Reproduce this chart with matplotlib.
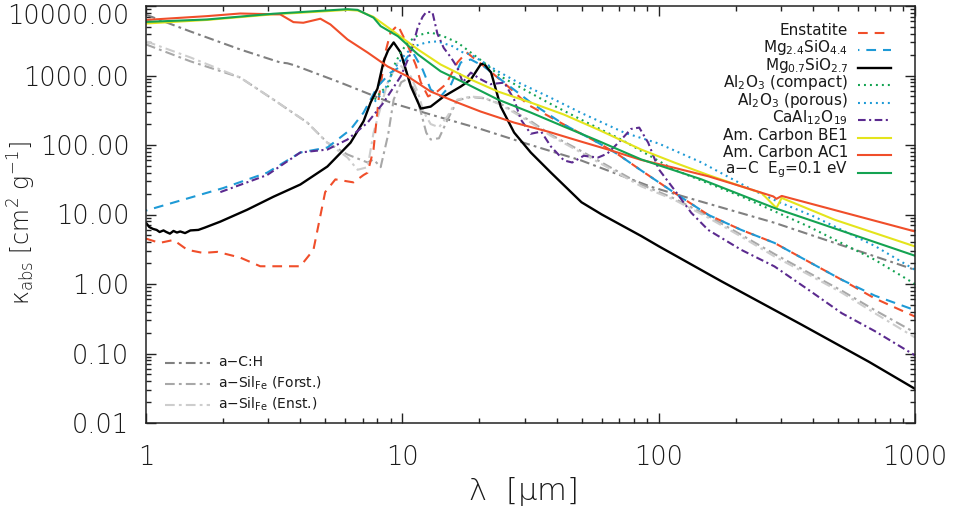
import numpy as np
import matplotlib
matplotlib.use('Agg')
import matplotlib.pyplot as plt
import matplotlib.transforms as mtransforms
from matplotlib.ticker import FixedLocator, FuncFormatter, NullFormatter, LogLocator

# ---------------- data (wavelength in micron, kappa_abs in cm^2/g) ----------------
lam_enst = [1.0, 1.13, 1.28, 1.45, 1.67, 1.9, 2.33, 2.79, 3.3, 4.0, 4.5, 5.0, 5.48, 6.45, 7.06,
            7.32, 7.72, 8.08, 8.6, 9.0, 9.6, 10.5, 11.3, 11.8, 12.6, 13.7, 14.8, 16.4, 17.8,
            19.7, 21.6, 25.8, 30.9, 42.7, 58, 69.5, 85.5, 115, 156, 210, 283, 385, 518, 697, 1000]
k_enst = [4.5, 3.9, 4.3, 3.1, 2.8, 2.9, 2.4, 1.8, 1.8, 1.8, 3.1, 21, 32, 29, 37,
          40, 86, 450, 2200, 4200, 5300, 2700, 1400, 800, 500, 590, 750, 1540, 2150,
          1600, 1220, 700, 380, 197, 108, 73, 43, 20.6, 9.9, 6.0, 3.9, 2.09, 1.15, 0.62, 0.34]

lam_mg24 = [1.0, 2.0, 2.97, 4.0, 5.1, 6.28, 7.06, 8.0, 9.0, 9.85, 10.5, 11.0, 12.0, 12.9, 14.1,
            15.5, 16.9, 18.5, 20.8, 24.2, 28.2, 31.7, 42.7, 58, 69.5, 85.5, 115, 156, 210, 283,
            385, 518, 697, 1000]
k_mg24 = [11.4, 24, 40, 78, 92, 167, 293, 694, 1100, 1350, 1880, 2140, 1220, 628, 498,
          750, 1540, 1700, 1350, 875, 569, 408, 197, 108, 73, 43, 20.6, 9.9, 6.0, 3.9,
          2.09, 1.15, 0.68, 0.42]

lam_mg07 = [1.0, 1.03, 1.065, 1.1, 1.13, 1.17, 1.2, 1.24, 1.28, 1.32, 1.36, 1.42, 1.49, 1.6, 1.7,
            1.95, 2.48, 3.14, 4.0, 5.1, 6.28, 7.06, 7.52, 8.0, 8.45, 8.8, 9.25, 9.85, 10.8, 11.8,
            12.9, 14.5, 16.9, 18.5, 20.2, 20.8, 22.2, 24.2, 27.3, 31.7, 38, 50, 60, 85.5, 100,
            176, 361, 661, 1000]
k_mg07 = [7.6, 6.6, 6.2, 6.0, 5.6, 5.9, 5.6, 5.3, 5.8, 5.5, 5.7, 5.4, 5.9, 6.0, 6.5,
          7.9, 11.7, 18, 27, 49, 108, 220, 408, 650, 1600, 2300, 2990, 2140, 694, 334,
          357, 498, 694, 875, 1440, 1490, 1100, 357, 151, 78, 40, 15, 10, 4.9, 3.5,
          1.09, 0.26, 0.076, 0.031]

lam_alc = [7.8, 8.3, 8.8, 9.25, 9.85, 10.5, 11.5, 12.9, 14.5, 16.4, 18.5, 20.8, 24.2, 29.9, 37,
           49.8, 71.4, 115, 210, 385, 697, 1000]
k_alc = [450, 600, 700, 1350, 2140, 2990, 3800, 4170, 3650, 2990, 2140, 1540, 968, 628, 408,
         232, 120, 44, 18.2, 6.7, 2.23, 1.0]

lam_alp = [7.8, 8.5, 9.25, 10.1, 11.0, 12.4, 13.7, 14.5, 15.9, 16.9, 18.5, 20.8, 23.6, 28.2, 37,
           49.8, 73.6, 100, 147, 230, 290, 405, 518, 700, 1000]
k_alp = [420, 600, 1220, 1880, 2600, 2990, 3100, 2900, 2600, 2200, 2000, 1540, 1150, 800, 500,
         290, 150, 105, 56, 23, 15.5, 9.3, 6.0, 3.5, 1.6]

lam_ca = [1.95, 2.97, 4.0, 5.1, 6.11, 7.32, 8.45, 9.85, 10.8, 11.5, 12.0, 12.4, 13.1, 13.7, 14.5,
          15.5, 16.4, 17.2, 18.5, 20.0, 22.0, 25.0, 27.3, 29.0, 31.7, 34.8, 38, 42.7, 46, 51,
          58, 63, 70, 78, 84, 91, 100, 115, 134, 156, 210, 283, 385, 518, 697, 1000]
k_ca = [21, 37, 78, 86, 120, 210, 408, 968, 2140, 5000, 7000, 8200, 8200, 4000, 2500,
        1800, 1300, 800, 1100, 900, 750, 790, 450, 232, 145, 156, 95, 60, 56, 70,
        66, 75, 110, 170, 178, 108, 45, 22.8, 10.6, 6.0, 3.1, 1.79, 0.82, 0.38, 0.21, 0.094]

lam_be1 = [1.0, 1.73, 3.14, 4.0, 5.0, 6.1, 6.7, 7.7, 9.25, 11.5, 14.1, 18.5, 23.6, 31.7, 42.7,
           58, 85.5, 115, 156, 210, 252, 288, 302, 486, 1000]
k_be1 = [5600, 6300, 7600, 8000, 8400, 8800, 8600, 7000, 4300, 2370, 1440, 875, 588, 408, 274,
         167, 86, 56, 37, 25.4, 20.4, 12.4, 17.3, 8.4, 3.47]

lam_ac1 = [1.0, 1.73, 2.33, 3.34, 3.76, 4.11, 4.79, 5.24, 6.11, 7.32, 8.76, 10.5, 12.9, 16.4, 20.2,
           27.3, 37, 49.8, 63.5, 85.5, 115, 156, 210, 280, 288, 302, 1000]
k_ac1 = [6300, 7150, 7800, 7570, 5860, 5740, 6560, 5430, 3300, 2140, 1350, 968, 588, 408, 303,
         210, 156, 112, 86, 61, 47, 35.5, 25.4, 18.2, 16.8, 18.5, 5.7]

lam_ac01 = [1.0, 1.73, 3.14, 4.0, 5.0, 6.11, 6.69, 7.72, 8.23, 9.6, 11.5, 14.1, 17.4, 23.6, 31.7,
            42.7, 58, 85.5, 147, 283, 1000]
k_ac01 = [5900, 6400, 7740, 8170, 8600, 9000, 8800, 6790, 5130, 3680, 2010, 1150, 792, 451, 293,
          184, 115, 62, 32, 12.4, 2.55]

lam_ach = [1.0, 1.49, 2.33, 3.34, 3.56, 3.8, 5.74, 9.0, 12.9, 20.2, 31.7, 49.8, 93.5, 126, 283, 1000]
k_ach = [7500, 4300, 2370, 1540, 1500, 1400, 790, 408, 274, 170, 100, 60, 25, 18, 7.6, 1.6]

lam_fo = [1.0, 1.49, 2.33, 3.14, 4.26, 5.1, 6.11, 7.32, 7.72, 8.23, 8.8, 9.25, 9.9, 10.5, 11.2,
          11.8, 12.4, 12.9, 13.9, 15.0, 16.4, 18.5, 20.8, 24.2, 31.7, 38, 49.8, 85.5, 115, 156,
          210, 283, 385, 518, 697, 1000]
k_fo = [2800, 1600, 935, 451, 210, 108, 73, 56, 62, 48, 140, 450, 800, 900, 600,
        300, 150, 120, 125, 230, 440, 490, 470, 390, 220, 140, 82, 27, 17, 9.5,
        5.1, 2.7, 1.45, 0.8, 0.42, 0.2]

lam_en2 = [1.0, 1.49, 2.33, 3.14, 4.26, 5.1, 6.11, 6.69, 7.32, 7.72, 8.76, 9.6, 10.8, 11.5, 12.1,
           12.9, 13.9, 15.0, 16.4, 18.5, 20.8, 24.2, 31.7, 38, 49.8, 85.5, 115, 156, 210, 283,
           385, 518, 697, 1000]
k_en2 = [3100, 1820, 935, 451, 210, 108, 66, 44, 48, 150, 792, 1540, 968, 570, 300,
         200, 180, 260, 451, 498, 480, 380, 210, 135, 78, 25.4, 16.3, 9.0, 4.8, 2.49,
         1.36, 0.75, 0.38, 0.17]

labels_right = ['Enstatite', 'Mg$_{2.4}$SiO$_{4.4}$', 'Mg$_{0.7}$SiO$_{2.7}$',
                'Al$_2$O$_3$ (compact)', 'Al$_2$O$_3$ (porous)', 'CaAl$_{12}$O$_{19}$',
                'Am. Carbon BE1', 'Am. Carbon AC1', 'a\u2212C  E$_g$=0.1 eV']
labels_left = ['a\u2212C:H', 'a\u2212Sil$_{Fe}$ (Forst.)', 'a\u2212Sil$_{Fe}$ (Enst.)']
yticks = [0.01, 0.1, 1, 10, 100, 1000, 10000]
xticks = [1, 10, 100, 1000]

# ---------------- style ----------------
plt.rcParams['font.family'] = ['DejaVu Sans']
plt.rcParams['font.weight'] = 'light'
plt.rcParams['mathtext.fontset'] = 'custom'
plt.rcParams['mathtext.rm'] = 'DejaVu Sans:light'
plt.rcParams['mathtext.it'] = 'DejaVu Sans:italic:light'
plt.rcParams['mathtext.default'] = 'regular'
plt.rcParams['lines.scale_dashes'] = False

TXT = '#1a1a1a'
RED = '#f04e2a'
BLUE = '#1e9ad6'
GREEN = '#14a352'
YELLOW = '#e4e41c'
PURPLE = '#5b2a8f'
DGRAY = '#808080'
MGRAY = '#a8a8a8'
LGRAY = '#cdcdcd'

DASH = (0, (7, 5))
DASH_B = (6, (7, 5))
DOT = (0, (1.4, 2.9))
DASHDOT = (0, (5.5, 2.5, 1.5, 2.5))
GDASHDOT = (0, (7, 3, 2, 3))
LW = 1.5

fig = plt.figure(figsize=(9.54, 5.16), dpi=100)
ax = fig.add_axes([146/954, (516-423)/516, (915-146)/954, (423-6)/516])

series_left = [
    (lam_ach, k_ach, DGRAY, GDASHDOT),
    (lam_fo, k_fo, MGRAY, GDASHDOT),
    (lam_en2, k_en2, LGRAY, GDASHDOT),
]
series_right = [
    (lam_enst, k_enst, RED, DASH),
    (lam_mg24, k_mg24, BLUE, DASH_B),
    (lam_mg07, k_mg07, 'black', '-'),
    (lam_alc, k_alc, GREEN, DOT),
    (lam_alp, k_alp, BLUE, DOT),
    (lam_ca, k_ca, PURPLE, DASHDOT),
    (lam_be1, k_be1, YELLOW, '-'),
    (lam_ac1, k_ac1, RED, '-'),
    (lam_ac01, k_ac01, GREEN, '-'),
]

for lam, k, c, ls in series_left:
    ax.plot(lam, k, color=c, ls=ls, lw=LW)
for lam, k, c, ls in series_right:
    ax.plot(lam, k, color=c, ls=ls, lw=LW + (0.2 if c == 'black' else 0))

ax.set_xscale('log')
ax.set_yscale('log')
ax.set_xlim(1, 1000)
ax.set_ylim(0.01, 1e4)

ax.xaxis.set_major_locator(FixedLocator(xticks))
ax.xaxis.set_major_formatter(FuncFormatter(lambda v, p: f'{v:g}'))
ax.xaxis.set_minor_locator(LogLocator(base=10, subs=np.arange(2, 10), numticks=20))
ax.xaxis.set_minor_formatter(NullFormatter())
ax.yaxis.set_major_locator(FixedLocator(yticks))
ax.yaxis.set_major_formatter(FuncFormatter(lambda v, p: f'{v:.2f}'))
ax.yaxis.set_minor_locator(LogLocator(base=10, subs=np.arange(2, 10), numticks=20))
ax.yaxis.set_minor_formatter(NullFormatter())

ax.tick_params(which='both', direction='in', top=True, right=True, width=1.0, color='#222222')
ax.tick_params(which='major', length=7)
ax.tick_params(which='minor', length=3.5)
ax.tick_params(axis='x', which='major', labelsize=18.5, pad=16, labelcolor=TXT)
ax.tick_params(axis='y', which='major', labelsize=18.5, pad=12, labelcolor=TXT)
for sp in ax.spines.values():
    sp.set_linewidth(1.1)
    sp.set_color('#222222')

fig.text(522/954, 1 - 492/516, r'$\lambda$  [$\mu$m]', fontsize=22, ha='center', va='center',
         color=TXT)
fig.text(22/954, 1 - 223/516, '\u03ba$_{abs}$ [cm$^2$ g$^{-1}$]', fontsize=17, rotation=90,
         ha='center', va='center', color=TXT)

# ---------------- manual legends (IDL style) ----------------
def axx(px):
    return (px - 146) / 769.0

def axy(py):
    return (423 - py) / 417.0

for i, ((lam, k, c, ls), lab) in enumerate(zip(series_right, labels_right)):
    yl = 33 + 17.46 * i
    ax.plot([axx(858), axx(891)], [axy(yl), axy(yl)], transform=ax.transAxes, color=c, ls=ls,
            lw=LW + (0.2 if c == 'black' else 0), clip_on=False)
    ax.text(axx(848), axy(yl - 2.5), lab, transform=ax.transAxes, ha='right', va='center',
            fontsize=11, fontweight='normal', math_fontfamily='dejavusans', color=TXT)

for i, ((lam, k, c, ls), lab) in enumerate(zip(series_left, labels_left)):
    yl = 363 + 21 * i
    ax.plot([axx(165), axx(210)], [axy(yl), axy(yl)], transform=ax.transAxes, color=c, ls=ls,
            lw=LW, clip_on=False)
    ax.text(axx(218), axy(yl - 1), lab, transform=ax.transAxes, ha='left', va='center',
            fontsize=10, fontweight='normal', math_fontfamily='dejavusans', color=TXT)

# shift the topmost y tick label down slightly, as in the reference
fig.canvas.draw()
for t in ax.yaxis.get_major_ticks():
    if abs(t.get_loc() - 10000) < 1:
        t.label1.set_transform(t.label1.get_transform() +
                               mtransforms.ScaledTranslation(0, -8/100, fig.dpi_scale_trans))

fig.savefig('out.png', dpi=100)
